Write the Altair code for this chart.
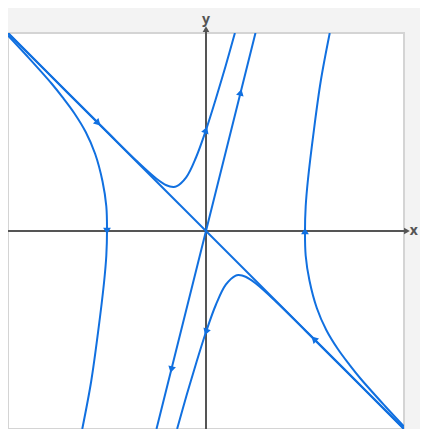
import altair as alt
import pandas as pd

# Trajectories (data units, x and y in [-2, 2])
curve_left_x = [-2.0, -1.81, -1.56, -1.448, -1.33, -1.215, -1.12, -1.045, -1.007, -1.0, -1.007, -1.03, -1.09, -1.16, -1.25]
curve_left_y = [1.975, 1.77, 1.49, 1.35, 1.19, 1.0, 0.78, 0.5, 0.25, 0.0, -0.25, -0.52, -1.02, -1.52, -2.0]

curve_right_x = [2.0, 1.81, 1.56, 1.448, 1.33, 1.215, 1.12, 1.045, 1.007, 1.0, 1.007, 1.03, 1.09, 1.16, 1.25]
curve_right_y = [-1.975, -1.77, -1.49, -1.35, -1.19, -1.0, -0.78, -0.5, -0.25, 0.0, 0.25, 0.52, 1.02, 1.52, 2.0]

curve_top_x = [-2.0, -1.6, -1.3, -1.0, -0.7, -0.5, -0.4, -0.33, -0.3, -0.2, -0.1, 0.0, 0.095, 0.196, 0.292]
curve_top_y = [2.0, 1.6, 1.3, 1.002, 0.707, 0.528, 0.462, 0.445, 0.45, 0.542, 0.745, 1.02, 1.32, 1.66, 2.0]

curve_bot_x = [2.0, 1.6, 1.3, 1.0, 0.7, 0.5, 0.4, 0.33, 0.3, 0.2, 0.1, 0.0, -0.095, -0.196, -0.292]
curve_bot_y = [-2.0, -1.6, -1.3, -1.002, -0.707, -0.528, -0.462, -0.445, -0.45, -0.542, -0.745, -1.02, -1.32, -1.66, -2.0]

stable_x = [-2.0, 2.0]
stable_y = [2.0, -2.0]
unstable_x = [-0.5, 0.5]
unstable_y = [-2.0, 2.0]

# Flow-direction arrowheads (position and heading in degrees, clockwise from up)
arrow_x = [-1.09, 1.09, 0.35, -0.35, -1.0, 1.0, 0.0, 0.0]
arrow_y = [1.09, -1.09, 1.40, -1.40, 0.0, 0.0, 1.02, -1.02]
arrow_dir = [135, 315, 14, 194, 180, 0, 20, 200]

# Coordinate axes
axis_x_x = [-2.0, 2.02]
axis_x_y = [0.0, 0.0]
axis_y_x = [0.0, 0.0]
axis_y_y = [-2.0, 2.03]
axis_tip_x = [2.03, 0.0]
axis_tip_y = [0.0, 2.04]
axis_tip_dir = [90, 0]
axis_label_x = [2.1, 0.0]
axis_label_y = [-0.045, 2.09]
axis_label_text = ["x", "y"]

BLUE = "#1170e0"
GRAY = "#555555"

rows = []
for name, xs, ys in [
    ("left", curve_left_x, curve_left_y),
    ("right", curve_right_x, curve_right_y),
    ("top", curve_top_x, curve_top_y),
    ("bot", curve_bot_x, curve_bot_y),
    ("stable", stable_x, stable_y),
    ("unstable", unstable_x, unstable_y),
]:
    for i, (x, y) in enumerate(zip(xs, ys)):
        rows.append({"curve": name, "i": i, "x": x, "y": y})
curves = pd.DataFrame(rows)

arrows = pd.DataFrame({"x": arrow_x, "y": arrow_y, "a": arrow_dir})

axes_rows = []
for i, (x, y) in enumerate(zip(axis_x_x, axis_x_y)):
    axes_rows.append({"axis": "x", "i": i, "x": x, "y": y})
for i, (x, y) in enumerate(zip(axis_y_x, axis_y_y)):
    axes_rows.append({"axis": "y", "i": i, "x": x, "y": y})
axes_df = pd.DataFrame(axes_rows)
tips = pd.DataFrame({"x": axis_tip_x, "y": axis_tip_y, "a": axis_tip_dir})
labels = pd.DataFrame({"x": axis_label_x, "y": axis_label_y, "t": axis_label_text})

xs = alt.Scale(domain=[-2, 2], nice=False, zero=False)
ys = alt.Scale(domain=[-2, 2], nice=False, zero=False)

X = lambda: alt.X("x:Q", scale=xs, axis=None)
Y = lambda: alt.Y("y:Q", scale=ys, axis=None)

axis_lines = alt.Chart(axes_df).mark_line(color=GRAY, strokeWidth=2, clip=False).encode(
    x=X(), y=Y(), detail="axis:N", order="i:Q"
)
axis_tips = alt.Chart(tips).mark_point(
    shape="triangle-up", filled=True, color=GRAY, size=45, opacity=1, clip=False
).encode(x=X(), y=Y(), angle=alt.Angle("a:Q", scale=None))
axis_labels = alt.Chart(labels).mark_text(
    color=GRAY, fontSize=14, fontWeight="bold", font="Open Sans", baseline="alphabetic",
    align="center", clip=False
).encode(x=X(), y=Y(), text="t:N")

traj = alt.Chart(curves).mark_line(
    color=BLUE, strokeWidth=2, interpolate="catmull-rom", clip=True
).encode(x=X(), y=Y(), detail="curve:N", order="i:Q")

heads = alt.Chart(arrows).mark_point(
    shape="triangle-up", filled=True, color=BLUE, size=60, opacity=1
).encode(x=X(), y=Y(), angle=alt.Angle("a:Q", scale=None))

chart = alt.layer(axis_lines, traj, heads, axis_tips, axis_labels).properties(
    width=396,
    height=396,
    padding={"left": 0, "top": 25, "right": 16, "bottom": 0},
    autosize=alt.AutoSizeParams(type="none"),
    background="#f3f3f3",
).configure_view(fill="white", stroke="#d4d4d4", strokeWidth=2)

chart.save("out.html", embed_options={"renderer": "svg", "actions": False})
